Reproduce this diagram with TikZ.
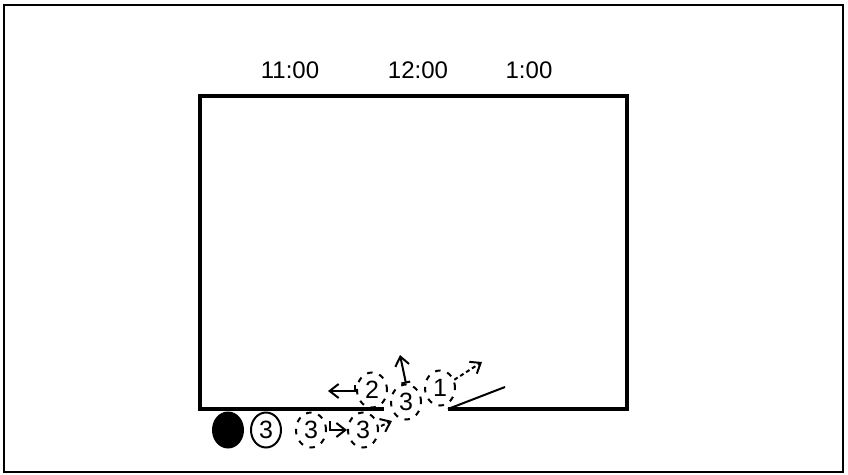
\documentclass[tikz,border=0pt]{standalone}
\usepackage{fontspec}
\setmainfont{Liberation Sans}
\usetikzlibrary{arrows.meta,shapes.geometric}

\tikzset{barb/.tip={Straight Barb[length=9pt,width=14pt]}}

\begin{document}
\begin{tikzpicture}[
  x=1pt,
  y=-1pt,
  wall/.style={line width=3.2pt},
  clock/.style={font=\fontsize{24}{24}\selectfont, inner sep=0pt},
  player/.style={
    draw,
    ellipse,
    line width=2pt,
    inner sep=0pt,
    minimum width=30pt,
    minimum height=35pt,
    font=\fontsize{25}{25}\selectfont
  },
  ghost/.style={player, dash pattern=on 5.5pt off 7pt},
  arrow/.style={-barb, line width=2pt},
  hop/.style={arrow, dash pattern=on 4pt off 3pt}
]
\useasboundingbox (0,0) rectangle (848,474);
\draw[line width=2pt] (4,5) rectangle (843,472);

% the room, with the open door
\coordinate (gap) at (384,409);
\coordinate (hinge) at (448,409);
\coordinate (leaf) at (505,387);
\draw[wall] (gap) -- (200,409) -- (200,96) -- (627,96) -- (627,409) -- (hinge);
\draw[line width=2pt] (hinge) -- (leaf);

\node[clock] (eleven) at (290,70.5) {11:00};
\node[clock] (twelve) at (418,70.5) {12:00};
\node[clock] (one) at (529,70.5) {1:00};

\node[player, fill=black] (ball) at (228,430) {};
\node[player] (start) at (266,430) {3};
\node[ghost] (move1) at (311,430) {3};
\node[ghost] (move2) at (363,430) {3};
\node[ghost] (move3) at (372,390) {2};
\node[ghost] (move4) at (406,402) {3};
\node[ghost] (move5) at (440,388) {1};

\coordinate (back) at (328,391);
\coordinate (hopend) at (392,421);
\coordinate (up) at (400,355);
\coordinate (out) at (482,362);

\draw[arrow] ([shift={(3,-9)}]move1.east) |- (move2.west);
\draw[hop] ([shift={(2,-4)}]move2.east) -- (hopend);
\draw[arrow] ([shift={(-1,-5)}]move3.west) |- (back);
\draw[arrow, {Bar[width=9pt]}-barb] (move4.north) -- (up);
\draw[hop] (move5.30) -- (out);
\end{tikzpicture}
\end{document}
